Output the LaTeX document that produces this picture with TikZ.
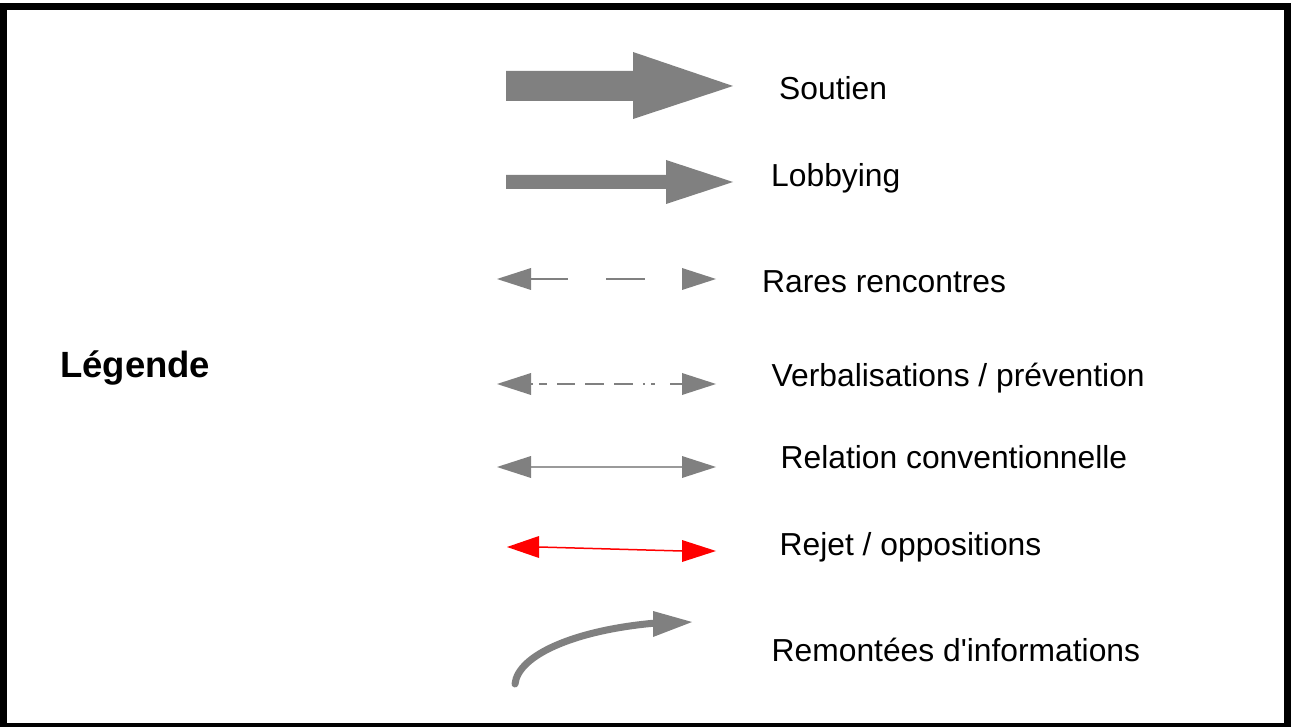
\documentclass[tikz,border=0pt]{standalone}
\usepackage{fontspec}
\setmainfont{Liberation Sans}
\definecolor{arrgray}{HTML}{808080}
\definecolor{linegray}{HTML}{9A9A9A}
\definecolor{rejred}{HTML}{FF0000}
\begin{document}
\begin{tikzpicture}[x=1pt,y=-1pt,
  lbl/.style={anchor=base west,inner sep=0pt,font=\fontsize{31.8}{38}\selectfont},
  ttl/.style={anchor=base west,inner sep=0pt,font=\fontsize{36.5}{44}\selectfont\bfseries},
  headfill/.style={fill=arrgray,draw=none},
  thinline/.style={draw=linegray,line width=1.6pt}]
\useasboundingbox (0,0) rectangle (1291,727);
\fill[white] (0,0) rectangle (1291,727);
\draw[line width=7pt] (3.5,6.5) rectangle (1287.5,726);

% Soutien
\fill[headfill] (506,71) -- (633,71) -- (633,52) -- (733,86) -- (633,119) -- (633,101) -- (506,101) -- cycle;
% Lobbying
\fill[headfill] (506,175) -- (666,175) -- (666,160) -- (733,182) -- (666,204) -- (666,189) -- (506,189) -- cycle;

% Rares rencontres
\coordinate (rrA) at (531,279); \coordinate (rrB) at (568,279);
\coordinate (rrC) at (606,279); \coordinate (rrD) at (645,279);
\draw[thinline,draw=arrgray,line width=1.2pt] (rrA) -- (rrB);
\draw[thinline,draw=arrgray,line width=1.2pt] (rrC) -- (rrD);
\fill[headfill] (497,279) -- (531,268) -- (531,290) -- cycle;
\fill[headfill] (716,279) -- (682,268) -- (682,290) -- cycle;

% Verbalisations / prevention
\coordinate (vbA) at (531,384); \coordinate (vbB) at (682,384);
\draw[thinline,draw=arrgray,line width=1.2pt,
  dash pattern=on 2pt off 6pt on 8pt off 10pt on 18pt off 10pt on 19pt off 10pt on 19pt off 10pt on 1.5pt off 6.5pt on 4pt off 15pt on 12pt]
  (vbA) -- (vbB);
\fill[headfill] (497,384) -- (531,373) -- (531,395) -- cycle;
\fill[headfill] (716,384) -- (682,373) -- (682,395) -- cycle;

% Relation conventionnelle
\coordinate (rcA) at (531,467); \coordinate (rcB) at (682,467);
\draw[thinline] (rcA) -- (rcB);
\fill[headfill] (497,467) -- (531,456) -- (531,478) -- cycle;
\fill[headfill] (716,467) -- (682,456) -- (682,478) -- cycle;

% Rejet / oppositions
\coordinate (rjA) at (539,547); \coordinate (rjB) at (682,551);
\draw[rejred,line width=1.5pt] (rjA) -- (rjB);
\fill[rejred] (507,547) -- (539,536) -- (539,558) -- cycle;
\fill[rejred] (716,551) -- (682,540) -- (682,562) -- cycle;

% Remontees d'informations
\coordinate (riA) at (515,684); \coordinate (riB) at (656,623);
\draw[arrgray,line width=7pt,line cap=round] (riA) .. controls (518,655) and (575,630) .. (riB);
\fill[headfill] (653,611) -- (692,622) -- (653,637) -- cycle;

% Labels
\node[ttl] (legende) at (60,377.5) {Légende};
\node[lbl] (soutien) at (779,99.3) {Soutien};
\node[lbl] (lobby) at (771,187) {Lobbying};
\node[lbl] (rares) at (762,292.5) {Rares rencontres};
\node[lbl] (verb) at (771.5,387) {Verbalisations / prévention};
\node[lbl] (relconv) at (780.5,468.3) {Relation conventionnelle};
\node[lbl] (rejet) at (779.5,555.5) {Rejet / oppositions};
\node[lbl] (remont) at (771.5,661.7) {Remontées d\textquotesingle informations};
\end{tikzpicture}
\end{document}
